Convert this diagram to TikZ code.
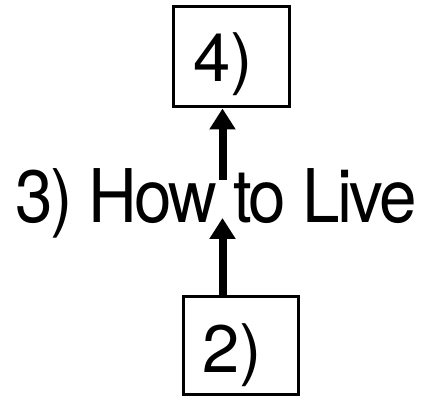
\documentclass[tikz,border=0pt]{standalone}
\usepackage{fontspec}
\setmainfont{TeX Gyre Heros}
\newfontfamily\tightfont[LetterSpace=-4]{TeX Gyre Heros}
\usetikzlibrary{arrows.meta}
\begin{document}
\begin{tikzpicture}[x=1pt,y=-1pt,
  box/.style={draw=black, line width=3pt, inner sep=0pt},
  txt/.style={inner sep=0pt, font=\fontsize{67}{72}\selectfont},
  bigtxt/.style={inner sep=0pt, font=\tightfont\fontsize{74}{80}\selectfont},
  arr/.style={line width=8pt, -{Triangle[length=21pt,width=25pt]}}]
\useasboundingbox (0,0) rectangle (426,398);
\node[box, minimum width=116pt, minimum height=100pt] (n4) at (231,57) {};
\node[txt, anchor=base west] (t4) at (193,82) {4)};
\node[box, minimum width=115pt, minimum height=97pt] (n2) at (240.5,345.5) {};
\node[txt, anchor=base west] (t2) at (202.3,372) {2)};
\node[bigtxt, anchor=base] (t3) at (216,223) {\scalebox{0.912}[1]{3) How to Live}};
\coordinate (a1) at (222.5,218);
\coordinate (a2) at (222.5,180);
\draw[arr] (n2.north -| a1) -- (a1);
\draw[arr] (a2) -- (n4.south -| a2);
\end{tikzpicture}
\end{document}
